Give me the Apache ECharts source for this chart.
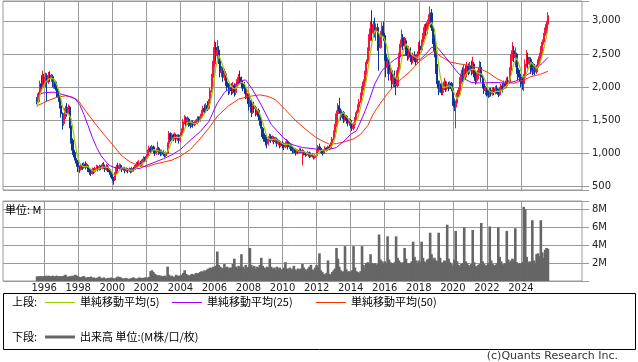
<!DOCTYPE html>
<html><head><meta charset="utf-8">
<script src="https://cdn.jsdelivr.net/npm/echarts@6/dist/echarts.min.js"></script>
<style>html,body{margin:0;padding:0;background:#fff}#c{width:638px;height:362px}</style>
</head><body><div id="c"></div>
<script>
// ---- axis range (monthly categories) ----
const axisStart = [1993, 8];
const axisEnd = [2027, 8];
const firstDataMonth = [1995, 8];
const yearLabels = [1996,1998,2000,2002,2004,2006,2008,2010,2012,2014,2016,2018,2020,2022,2024];
const priceTickLabels = [500,1000,1500,2000,2500,3000];
const volumeTickLabels = [2,4,6,8];

// ---- monthly candles [open, close, low, high], Aug 1995 .. Aug 2025 ----
const ohlc = [
// 1995 Aug-Dec
[1830,1780,1740,1850],[1780,1900,1760,1930],[1900,2050,1870,2100],[2050,2000,1960,2180],[2000,2120,1980,2250],
// 1996
[2120,2060,2020,2200],[2060,2150,2000,2220],[2150,2080,1780,2210],[2080,2180,2050,2230],[2180,2130,2080,2240],[2130,2160,2080,2200],[2160,2050,2000,2190],[2050,2080,1980,2120],[2080,1980,1950,2100],[1980,1900,1850,2000],[1900,1850,1780,1950],[1850,1720,1680,1880],
// 1997
[1720,1600,1540,1760],[1600,1450,1360,1620],[1450,1560,1420,1600],[1560,1680,1520,1720],[1680,1620,1560,1760],[1620,1700,1580,1740],[1700,1420,1380,1720],[1420,1200,1150,1450],[1200,1050,980,1230],[1050,980,940,1080],[980,900,850,1020],[900,860,800,930],
// 1998
[860,800,720,900],[800,760,710,820],[760,820,740,850],[820,790,750,860],[790,840,770,870],[840,800,760,880],[800,820,780,860],[820,760,720,840],[760,720,680,780],[720,700,660,760],[700,760,680,790],[760,730,700,780],
// 1999
[730,780,710,800],[780,800,750,830],[800,760,730,820],[760,800,740,830],[800,780,750,820],[780,830,760,860],[830,800,770,870],[800,760,720,820],[760,800,740,840],[800,760,720,830],[760,720,680,780],[720,680,640,740],
// 2000
[680,620,580,700],[620,600,530,650],[600,700,590,720],[700,800,680,830],[800,780,740,860],[780,820,760,850],[820,790,750,840],[790,760,720,810],[760,780,740,800],[780,740,700,800],[740,760,720,790],[760,740,700,780],
// 2001
[740,760,720,790],[760,730,700,780],[730,770,710,800],[770,760,730,800],[760,800,750,830],[800,840,780,870],[840,820,790,880],[820,860,800,900],[860,830,800,890],[830,880,810,910],[880,920,860,960],[920,900,870,950],
// 2002
[900,960,880,990],[960,1020,940,1060],[1020,1080,1000,1120],[1080,1050,1000,1110],[1050,1100,1020,1130],[1100,1040,1000,1120],[1040,1000,960,1070],[1000,1050,980,1080],[1050,1080,1020,1180],[1080,1020,980,1100],[1020,1000,960,1060],[1000,1030,970,1060],
// 2003
[1030,990,960,1050],[990,970,940,1020],[970,1000,950,1030],[1000,1150,990,1170],[1150,1300,1120,1340],[1300,1220,1180,1320],[1220,1280,1200,1310],[1280,1240,1190,1300],[1240,1280,1210,1320],[1280,1220,1160,1300],[1220,1260,1190,1290],[1260,1200,1150,1290],
// 2004
[1200,1280,1170,1320],[1280,1340,1250,1380],[1340,1480,1320,1520],[1480,1540,1440,1580],[1540,1460,1400,1560],[1460,1520,1430,1560],[1520,1440,1400,1540],[1440,1420,1380,1480],[1420,1470,1400,1500],[1470,1430,1390,1500],[1430,1460,1410,1490],[1460,1480,1430,1510],
// 2005
[1480,1520,1440,1560],[1520,1500,1460,1560],[1500,1560,1480,1600],[1560,1620,1520,1660],[1620,1680,1580,1720],[1680,1650,1600,1740],[1650,1720,1620,1760],[1720,1680,1640,1790],[1680,1780,1660,1820],[1780,1950,1760,1990],[1950,2150,1920,2200],[2150,2350,2100,2400],
// 2006
[2350,2600,2300,2700],[2600,2480,2400,2680],[2480,2560,2420,2710],[2560,2400,2350,2620],[2400,2220,2150,2450],[2220,2250,2150,2320],[2250,2150,2080,2300],[2150,2200,2100,2280],[2200,2080,2020,2240],[2080,2000,1950,2120],[2000,1950,1880,2060],[1950,2000,1900,2050],
// 2007
[2000,1950,1880,2060],[1950,2020,1900,2080],[2020,1920,1860,2060],[1920,2000,1880,2040],[2000,2080,1960,2120],[2080,2150,2040,2200],[2150,2100,2050,2250],[2100,2050,1980,2160],[2050,2000,1940,2100],[2000,1980,1900,2080],[1980,1880,1820,2020],[1880,1900,1830,1960],
// 2008
[1900,1750,1650,1920],[1750,1800,1700,1850],[1800,1620,1550,1820],[1620,1720,1600,1760],[1720,1680,1620,1780],[1680,1600,1560,1720],[1600,1650,1580,1700],[1650,1560,1500,1680],[1560,1500,1420,1600],[1500,1380,1250,1520],[1380,1300,1220,1400],[1300,1250,1180,1340],
// 2009
[1250,1180,1120,1280],[1180,1150,1080,1220],[1150,1220,1120,1260],[1220,1260,1180,1300],[1260,1200,1160,1290],[1200,1240,1170,1270],[1240,1180,1140,1260],[1180,1220,1150,1250],[1220,1150,1100,1240],[1150,1180,1120,1210],[1180,1120,1080,1200],[1120,1160,1100,1190],
// 2010
[1160,1120,1080,1190],[1120,1100,1050,1150],[1100,1150,1080,1180],[1150,1180,1120,1220],[1180,1100,1060,1200],[1100,1140,1070,1170],[1140,1080,1040,1160],[1080,1040,1000,1100],[1040,1060,1000,1090],[1060,1010,970,1080],[1010,1040,990,1070],[1040,1020,990,1060],
// 2011
[1020,1050,1000,1080],[1050,1040,1010,1080],[1010,1030,820,1070],[1030,1000,970,1050],[1000,980,950,1020],[980,1000,960,1020],[1000,1010,980,1040],[1010,960,930,1030],[960,980,940,1000],[980,960,940,1000],[960,940,910,980],[940,970,920,990],
// 2012
[970,1030,950,1050],[1030,1100,1010,1130],[1100,1080,1050,1150],[1080,1040,1010,1100],[1040,1000,970,1060],[1000,1050,990,1070],[1050,1080,1030,1110],[1080,1060,1030,1100],[1060,1100,1040,1120],[1100,1080,1050,1130],[1080,1140,1070,1170],[1140,1220,1120,1250],
// 2013
[1220,1320,1200,1350],[1320,1420,1300,1450],[1420,1600,1400,1650],[1600,1720,1580,1760],[1720,1650,1600,1840],[1650,1580,1500,1680],[1580,1620,1540,1660],[1620,1520,1460,1640],[1520,1560,1480,1600],[1560,1500,1450,1580],[1500,1460,1410,1540],[1460,1500,1420,1530],
// 2014
[1500,1420,1380,1520],[1420,1380,1340,1450],[1380,1440,1350,1470],[1440,1520,1420,1550],[1520,1620,1500,1650],[1620,1700,1600,1740],[1700,1780,1680,1820],[1780,1880,1760,1920],[1880,1980,1860,2020],[1980,2080,1950,2120],[2080,2200,2050,2250],[2200,2380,2180,2420],
// 2015
[2380,2550,2350,2600],[2550,2750,2500,2800],[2750,2880,2700,3000],[2880,2820,2700,3160],[2820,2950,2780,3000],[2950,2850,2750,3050],[2850,2900,2700,2960],[2900,2700,2550,2960],[2700,2600,2250,2750],[2600,2800,2580,2850],[2800,2920,2750,2980],[2920,2780,2700,2990],
// 2016
[2780,2500,2400,2820],[2500,2300,2150,2560],[2300,2380,2200,2450],[2380,2200,2100,2420],[2200,2250,2100,2300],[2250,2050,1980,2280],[2050,2150,2000,2200],[2150,2100,2000,2250],[2100,2020,1880,2150],[2020,2250,2000,2300],[2250,2480,2200,2520],[2480,2650,2450,2720],
// 2017
[2650,2750,2600,2870],[2750,2620,2560,2800],[2620,2700,2580,2760],[2700,2550,2480,2740],[2550,2480,2400,2600],[2480,2560,2420,2620],[2560,2450,2380,2600],[2450,2400,2340,2500],[2400,2480,2360,2520],[2480,2420,2380,2540],[2420,2380,2330,2480],[2380,2500,2350,2540],
// 2018
[2500,2620,2450,2680],[2620,2560,2480,2700],[2560,2680,2520,2720],[2680,2780,2640,2820],[2780,2900,2720,2950],[2900,2850,2780,2960],[2850,2980,2800,3020],[2980,3050,2900,3100],[3050,3120,2950,3220],[3120,2900,2850,3180],[2900,2750,2650,2960],[2750,2550,2450,2800],
// 2019
[2550,2300,2200,2620],[2300,2050,1980,2350],[2050,1950,1880,2100],[1950,2050,1920,2100],[2050,1920,1880,2080],[1920,2000,1880,2050],[2000,2080,1960,2140],[2080,1980,1930,2100],[1980,2040,1950,2080],[2040,2000,1940,2080],[2000,2060,1970,2090],[2060,1980,1940,2080],
// 2020
[1980,1800,1720,2000],[1800,1700,1640,1830],[1700,1760,1380,1800],[1760,1880,1700,1920],[1880,1950,1850,2000],[1950,2100,1920,2150],[2100,2200,2050,2260],[2200,2150,2080,2300],[2150,2280,2100,2340],[2280,2200,2120,2330],[2200,2320,2150,2380],[2320,2250,2180,2360],
// 2021
[2250,2320,2200,2380],[2320,2250,2180,2400],[2250,2350,2200,2460],[2350,2200,2150,2380],[2200,2100,2040,2250],[2100,2180,2060,2230],[2180,2250,2120,2300],[2250,2300,2200,2400],[2300,2150,2080,2380],[2150,2050,1980,2180],[2050,1950,1900,2080],[1950,1980,1880,2020],
// 2022
[1980,1920,1860,2000],[1920,1880,1840,1960],[1880,1950,1850,1990],[1950,1900,1860,1990],[1900,1960,1870,2000],[1960,1920,1880,2000],[1920,1980,1890,2020],[1980,1940,1900,2030],[1940,1890,1850,1980],[1890,1960,1870,2000],[1960,2020,1930,2050],[2020,1980,1920,2060],
// 2023
[1980,2050,1960,2100],[2050,2020,1980,2100],[2020,2100,1990,2150],[2100,2080,2030,2160],[2080,2250,2060,2300],[2250,2450,2200,2500],[2450,2550,2400,2680],[2550,2450,2380,2620],[2450,2500,2300,2600],[2500,2280,2200,2520],[2280,2200,2100,2320],[2200,2150,2080,2260],
// 2024
[2150,2100,2000,2200],[2100,2050,1960,2150],[2050,2150,1940,2200],[2150,2350,2100,2420],[2350,2450,2300,2560],[2450,2350,2280,2520],[2350,2420,2300,2460],[2420,2300,2200,2450],[2300,2250,2180,2380],[2250,2320,2200,2360],[2320,2230,2180,2350],[2230,2300,2200,2340],
// 2025 Jan-Aug
[2300,2380,2260,2420],[2380,2460,2340,2520],[2460,2560,2400,2620],[2560,2680,2500,2720],[2680,2780,2640,2820],[2780,2850,2720,2900],[2850,2950,2800,3000],[2950,3080,2900,3130]
];

// ---- monthly volume (M), Aug 1995 .. Aug 2025 ----
const volume = [
0.5,0.55,0.5,0.55,0.5,
0.55,0.6,0.5,0.6,0.55,0.5,0.6,0.5,0.55,0.6,0.5,0.55,
0.5,0.55,0.6,0.7,0.5,0.45,0.55,0.5,0.6,0.55,0.7,0.6,
0.5,0.45,0.4,0.5,0.55,0.4,0.35,0.45,0.4,0.5,0.35,0.4,
0.3,0.35,0.4,0.5,0.35,0.3,0.4,0.3,0.25,0.35,0.3,0.4,
0.35,0.3,0.25,0.4,0.5,0.45,0.4,0.3,0.25,0.3,0.35,0.2,
0.25,0.3,0.35,0.4,0.3,0.25,0.3,0.4,0.35,0.3,0.35,0.4,
0.4,0.35,0.45,1.1,1.2,1.0,0.8,0.7,0.6,0.65,0.6,0.5,
0.55,0.6,0.45,1.6,0.7,0.5,0.6,0.45,0.5,0.7,0.55,0.6,
0.6,0.7,0.9,1.2,0.8,0.7,0.6,0.65,0.8,0.7,0.75,0.9,
0.8,0.9,1.0,1.1,1.0,1.2,1.1,1.3,1.4,1.5,1.4,1.6,
1.5,1.7,3.3,1.8,1.6,1.5,1.4,1.9,1.5,1.6,1.4,1.5,
1.5,1.9,2.5,1.6,1.4,1.7,1.5,3.0,1.6,1.4,1.8,1.5,
1.6,3.7,1.8,1.5,1.7,1.4,1.6,1.5,1.8,2.6,1.7,1.5,
1.4,1.6,1.5,2.5,1.6,1.4,1.5,1.3,1.6,1.4,1.5,1.3,
1.3,1.5,2.1,1.4,1.3,1.5,1.2,1.4,1.7,1.3,1.2,1.4,
1.3,1.4,1.9,1.5,1.3,1.2,1.4,1.6,1.8,1.3,1.2,1.5,
1.8,1.5,3.1,1.2,1.0,0.8,0.7,0.9,2.3,0.8,0.7,1.0,
1.2,1.4,3.7,2.5,1.6,1.2,1.0,1.1,3.9,1.3,1.0,1.1,
1.0,1.2,3.9,1.5,1.1,1.0,0.9,1.1,3.9,1.8,1.5,2.0,
2.1,1.9,3.0,2.0,1.9,2.0,1.8,1.9,5.2,2.4,2.2,2.0,
2.2,2.0,5.0,2.4,2.1,2.0,1.9,2.1,5.0,2.6,2.3,2.1,
2.0,2.1,3.7,2.5,2.0,1.9,2.0,2.2,4.4,2.7,2.3,2.0,
2.3,2.1,4.4,2.6,2.2,2.0,2.4,2.5,5.4,3.0,2.4,2.6,
2.3,2.2,5.4,2.6,2.1,2.0,2.3,2.2,6.3,2.5,2.1,1.9,
1.7,2.4,5.6,2.2,1.8,1.6,1.9,2.0,6.0,2.2,2.0,1.8,
1.6,1.9,5.7,2.1,1.7,1.6,1.8,1.9,6.5,2.2,1.9,1.7,
1.8,2.0,6.1,2.3,1.9,1.7,1.8,2.0,6.0,2.7,2.2,1.9,
1.8,2.0,5.6,2.4,2.1,2.3,2.5,2.2,5.9,2.1,1.9,2.0,
1.9,2.1,8.3,8.0,2.7,2.0,2.2,2.1,6.8,2.3,2.0,3.0,
3.1,2.8,6.8,3.2,2.6,3.5,3.7,3.6
];

// ---- moving averages ----
const ma5Points = [
['1995-08',1700],['1995-10',1880],['1995-12',2000],
['1996-02',2076],['1996-04',2118],['1996-06',2140],['1996-08',2120],['1996-10',2034],['1996-12',1906],
['1997-02',1704],['1997-04',1602],['1997-06',1602],['1997-08',1524],['1997-10',1270],['1997-12',998],
['1998-02',860],['1998-04',806],['1998-06',802],['1998-08',802],['1998-10',760],['1998-12',734],
['1999-02',754],['1999-04',774],['1999-06',794],['1999-08',794],['1999-10',790],['1999-12',744],
['2000-02',676],['2000-04',680],['2000-06',740],['2000-08',790],['2000-10',778],['2000-12',756],
['2001-02',746],['2001-04',752],['2001-06',780],['2001-08',816],['2001-10',846],['2001-12',878],
['2002-02',936],['2002-04',1002],['2002-06',1058],['2002-08',1048],['2002-10',1038],['2002-12',1036],
['2003-02',1002],['2003-04',1028],['2003-06',1128],['2003-08',1238],['2003-10',1248],['2003-12',1240],
['2004-02',1260],['2004-04',1368],['2004-06',1468],['2004-08',1476],['2004-10',1456],['2004-12',1452],
['2005-02',1478],['2005-04',1536],['2005-06',1602],['2005-08',1670],['2005-10',1756],['2005-12',1982],
['2006-02',2306],['2006-04',2478],['2006-06',2382],['2006-08',2244],['2006-10',2136],['2006-12',2046],
['2007-02',1984],['2007-04',1978],['2007-06',2034],['2007-08',2076],['2007-10',2056],['2007-12',1962],
['2008-02',1862],['2008-04',1758],['2008-06',1684],['2008-08',1642],['2008-10',1538],['2008-12',1398],
['2009-02',1252],['2009-04',1212],['2009-06',1214],['2009-08',1220],['2009-10',1194],['2009-12',1166],
['2010-02',1136],['2010-04',1142],['2010-06',1134],['2010-08',1108],['2010-10',1066],['2010-12',1034],
['2011-02',1032],['2011-04',1028],['2011-06',1010],['2011-08',990],['2011-10',982],['2011-12',962],
['2012-02',1000],['2012-04',1044],['2012-06',1054],['2012-08',1046],['2012-10',1074],['2012-12',1120],
['2013-02',1236],['2013-04',1456],['2013-06',1594],['2013-08',1618],['2013-10',1556],['2013-12',1508],
['2014-02',1452],['2014-04',1452],['2014-06',1532],['2014-08',1700],['2014-10',1884],['2014-12',2104],
['2015-02',2392],['2015-04',2676],['2015-06',2850],['2015-08',2844],['2015-10',2770],['2015-12',2760],
['2016-02',2660],['2016-04',2432],['2016-06',2236],['2016-08',2150],['2016-10',2114],['2016-12',2300],
['2017-02',2550],['2017-04',2654],['2017-06',2582],['2017-08',2488],['2017-10',2462],['2017-12',2436],
['2018-02',2496],['2018-04',2628],['2018-06',2754],['2018-08',2912],['2018-10',2980],['2018-12',2874],
['2019-02',2510],['2019-04',2180],['2019-06',1994],['2019-08',2006],['2019-10',2020],['2019-12',2012],
['2020-02',1908],['2020-04',1824],['2020-06',1878],['2020-08',2056],['2020-10',2186],['2020-12',2240],
['2021-02',2268],['2021-04',2274],['2021-06',2216],['2021-08',2206],['2021-10',2186],['2021-12',2086],
['2022-02',1956],['2022-04',1926],['2022-06',1922],['2022-08',1940],['2022-10',1938],['2022-12',1958],
['2023-02',2006],['2023-04',2046],['2023-06',2180],['2023-08',2356],['2023-10',2446],['2023-12',2316],
['2024-02',2156],['2024-04',2160],['2024-06',2270],['2024-08',2374],['2024-10',2328],['2024-12',2280],
['2025-02',2338],['2025-04',2476],['2025-06',2666],['2025-08',2868]
];
const ma25Points = [
['1995-08',1890],['1996-02',1920],['1996-08',1925],['1997-02',1890],['1997-07',1860],['1997-11',1820],['1998-02',1740],['1998-05',1590],['1998-08',1420],['1998-11',1240],['1999-02',1090],['1999-05',970],['1999-08',890],['1999-11',820],['2000-03',785],['2000-09',770],['2001-03',760],['2001-09',780],['2002-01',820],['2002-07',870],['2003-01',920],['2003-07',980],['2004-01',1060],['2004-08',1200],['2005-03',1330],['2005-09',1480],['2006-03',1760],['2006-08',1920],['2007-02',2020],['2007-08',2100],['2007-11',2110],['2008-04',1960],['2008-10',1730],['2009-05',1440],['2010-01',1250],['2010-07',1140],['2011-03',1090],['2011-12',1070],['2012-06',1040],['2013-03',1090],['2013-09',1200],['2014-01',1290],['2014-05',1340],['2014-10',1580],['2015-02',1800],['2015-06',2050],['2015-11',2250],['2016-03',2330],['2016-08',2420],['2017-01',2480],['2017-05',2480],['2017-10',2430],['2018-02',2420],['2018-06',2500],['2018-10',2600],['2019-02',2600],['2019-06',2500],['2019-11',2370],['2020-04',2230],['2020-09',2130],['2021-02',2070],['2021-08',2065],['2022-03',2070],['2022-09',2070],['2023-03',2060],['2023-09',2090],['2024-02',2140],['2024-07',2210],['2024-12',2290],['2025-04',2360],['2025-08',2450]
];
const ma50Points = [
['1995-08',1720],['1996-03',1790],['1996-10',1850],['1997-04',1870],['1997-09',1850],['1998-01',1800],['1998-07',1620],['1999-01',1450],['1999-07',1290],['2000-01',1140],['2000-07',980],['2001-01',880],['2001-07',820],['2002-01',800],['2002-07',840],['2003-01',870],['2003-07',900],['2004-01',960],['2004-08',1060],['2005-02',1200],['2005-09',1380],['2006-03',1560],['2006-11',1720],['2007-06',1820],['2008-01',1860],['2008-09',1885],['2009-03',1860],['2009-08',1810],['2010-03',1660],['2010-10',1500],['2011-05',1370],['2011-12',1250],['2012-05',1190],['2012-10',1140],['2013-03',1150],['2013-09',1180],['2014-03',1220],['2014-08',1290],['2015-01',1420],['2015-05',1600],['2015-10',1760],['2016-02',1880],['2016-07',2010],['2017-01',2130],['2017-07',2240],['2018-01',2380],['2018-07',2480],['2018-12',2550],['2019-04',2470],['2019-11',2380],['2020-06',2350],['2021-01',2330],['2021-08',2280],['2022-02',2220],['2022-08',2130],['2023-02',2070],['2023-08',2060],['2024-02',2100],['2024-08',2160],['2025-02',2190],['2025-08',2240]
];

// ---- build category axis & series tables ----
function lab(y, m) { return y + '-' + String(m).padStart(2, '0'); }
const cats = [];
for (let y = axisStart[0], m = axisStart[1]; y < axisEnd[0] || (y === axisEnd[0] && m <= axisEnd[1]);) {
  cats.push(lab(y, m)); m++; if (m > 12) { m = 1; y++; }
}
const offset = cats.indexOf(lab(firstDataMonth[0], firstDataMonth[1]));
const candleData = ohlc.map((r, i) => [offset + i, r[0], r[1], r[2], r[3]]);
const volData = volume.map((v, i) => [offset + i, v]);
const toLine = pts => pts.map(p => [cats.indexOf(p[0]), p[1]]);
const yearSet = new Set(yearLabels.map(y => lab(y, 1)));
const isYearTick = (idx, val) => yearSet.has(val);

const FONT = 'DejaVu Sans';
const JP = 'Noto Sans CJK JP';
const GRID_C = '#9a9a9a';

const chart = echarts.init(document.getElementById('c'), null, { renderer: 'canvas' });
chart.setOption({
  animation: false,
  backgroundColor: '#fff',
  grid: [
    { left: 3, right: 56, top: 1, height: 189, show: true, borderColor: GRID_C, borderWidth: 1 },
    { left: 3, right: 56, top: 201, height: 80, show: true, borderColor: GRID_C, borderWidth: 1 }
  ],
  xAxis: [
    { type: 'category', gridIndex: 0, data: cats, boundaryGap: false,
      axisLine: { show: false }, axisTick: { show: false }, axisLabel: { show: false },
      splitLine: { show: true, interval: isYearTick, lineStyle: { color: GRID_C, width: 1 } } },
    { type: 'category', gridIndex: 1, data: cats, boundaryGap: false,
      axisLine: { show: false }, axisTick: { show: false },
      axisLabel: { show: true, interval: isYearTick, formatter: v => v.slice(0, 4), margin: 2,
        fontFamily: FONT, fontSize: 10, color: '#222' },
      splitLine: { show: true, interval: isYearTick, lineStyle: { color: GRID_C, width: 1 } } }
  ],
  yAxis: [
    { type: 'value', gridIndex: 0, position: 'right', min: 450, max: 3300, scale: true,
      axisLine: { show: false },
      axisTick: { show: true, length: 7, lineStyle: { color: GRID_C } },
      axisLabel: { margin: 10, fontFamily: FONT, fontSize: 10, color: '#222',
        formatter: v => priceTickLabels.includes(v) ? v.toLocaleString('en-US') : '' },
      splitLine: { show: true, lineStyle: { color: GRID_C, width: 1 } } },
    { type: 'value', gridIndex: 1, position: 'right', min: 0, max: 8.95, interval: 2,
      axisLine: { show: false },
      axisTick: { show: true, length: 7, lineStyle: { color: GRID_C } },
      axisLabel: { margin: 10, fontFamily: FONT, fontSize: 10, color: '#222',
        formatter: v => volumeTickLabels.includes(v) ? v + 'M' : '' },
      splitLine: { show: true, lineStyle: { color: GRID_C, width: 1 } } }
  ],
  series: [
    { type: 'bar', xAxisIndex: 1, yAxisIndex: 1, data: volData, barWidth: 2.6,
      itemStyle: { color: '#666666' }, silent: true },
    { type: 'candlestick', xAxisIndex: 0, yAxisIndex: 0, data: candleData,
      dimensions: ['x', 'open', 'close', 'lowest', 'highest'],
      encode: { x: 'x', y: ['open', 'close', 'lowest', 'highest'] },
      barWidth: 1.7,
      itemStyle: { color: '#f5143f', color0: '#0a3597', borderColor: '#f5143f', borderColor0: '#0a3597', borderWidth: 1 },
      silent: true },
    { type: 'line', xAxisIndex: 0, yAxisIndex: 0, data: toLine(ma50Points), showSymbol: false,
      lineStyle: { color: '#ff3300', width: 1 }, silent: true },
    { type: 'line', xAxisIndex: 0, yAxisIndex: 0, data: toLine(ma25Points), showSymbol: false,
      lineStyle: { color: '#9900ff', width: 1 }, silent: true },
    { type: 'line', xAxisIndex: 0, yAxisIndex: 0, data: toLine(ma5Points), showSymbol: false,
      lineStyle: { color: '#99cc00', width: 1.2 }, silent: true }
  ],
  graphic: [
    { type: 'text', left: 5, top: 204, style: { text: '単位: M', font: '11px "' + JP + '"', fill: '#000' }, z: 10 },
    { type: 'rect', shape: { x: 3.5, y: 293.5, width: 632, height: 56 }, style: { fill: '#fff', stroke: '#000', lineWidth: 1 } },
    { type: 'text', x: 12, y: 302, style: { text: '上段:', font: '11px "' + JP + '"', fill: '#000', verticalAlign: 'middle' } },
    { type: 'line', shape: { x1: 45, y1: 302.5, x2: 75, y2: 302.5 }, style: { stroke: '#99cc00', lineWidth: 1 } },
    { type: 'text', x: 80, y: 302, style: { text: '単純移動平均(5)', font: '11px "' + JP + '"', fill: '#000', verticalAlign: 'middle' } },
    { type: 'line', shape: { x1: 172, y1: 302.5, x2: 202, y2: 302.5 }, style: { stroke: '#9900ff', lineWidth: 1 } },
    { type: 'text', x: 207, y: 302, style: { text: '単純移動平均(25)', font: '11px "' + JP + '"', fill: '#000', verticalAlign: 'middle' } },
    { type: 'line', shape: { x1: 316, y1: 302.5, x2: 346, y2: 302.5 }, style: { stroke: '#ff3300', lineWidth: 1 } },
    { type: 'text', x: 351, y: 302, style: { text: '単純移動平均(50)', font: '11px "' + JP + '"', fill: '#000', verticalAlign: 'middle' } },
    { type: 'text', x: 12, y: 337, style: { text: '下段:', font: '11px "' + JP + '"', fill: '#000', verticalAlign: 'middle' } },
    { type: 'line', shape: { x1: 45, y1: 337, x2: 75, y2: 337 }, style: { stroke: '#666666', lineWidth: 3 } },
    { type: 'text', x: 80, y: 337, style: { text: '出来高 単位:(M株/口/枚)', font: '11px "' + JP + '"', fill: '#000', verticalAlign: 'middle' } },
    { type: 'text', x: 618, y: 356, style: { text: '(c)Quants Research Inc.', font: '11px "' + FONT + '"', fill: '#333', align: 'right', verticalAlign: 'middle' } }
  ]
});
</script>
</body></html>
